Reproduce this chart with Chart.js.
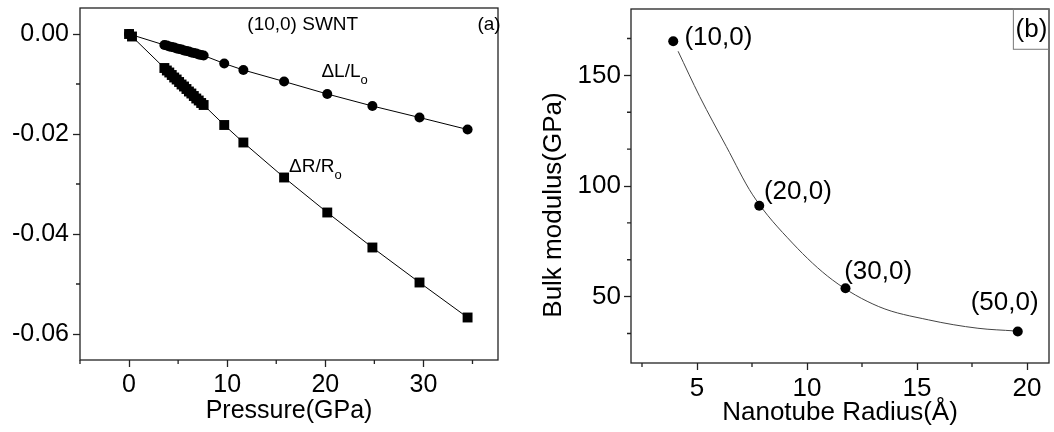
<!DOCTYPE html>
<html>
<head>
<meta charset="utf-8">
<script src="https://cdn.jsdelivr.net/npm/chart.js@4"></script>
<style>
  html, body { margin: 0; padding: 0; background: #fff; }
  #wrap { position: relative; width: 1054px; height: 432px; }
  canvas { position: absolute; top: 0; }
  #chartA { left: 0; }
  #chartB { left: 520px; }
</style>
</head>
<body>
<div id="wrap">
  <canvas id="chartA" width="520" height="432"></canvas>
  <canvas id="chartB" width="534" height="432"></canvas>
</div>
<script>
// panel (a): (10,0) SWNT strain vs pressure
var pressureL = [0, 3.6, 3.85, 4.1, 4.35, 4.6, 4.85, 5.1, 5.35, 5.6, 5.85, 6.1, 6.35, 6.6, 6.85, 7.1, 7.35, 7.6,
                 9.7, 11.65, 15.8, 20.2, 24.8, 29.6, 34.5];
var dL = [0, -0.0022, -0.0023, -0.0025, -0.0026, -0.0027, -0.0029, -0.0030, -0.0031, -0.0033, -0.0034, -0.0035,
          -0.0037, -0.0038, -0.0039, -0.0041, -0.0042, -0.0043,
          -0.0059, -0.0072, -0.0095, -0.0120, -0.0144, -0.0167, -0.0191];
var pressureR = [0, 0.3, 3.6, 3.85, 4.1, 4.35, 4.6, 4.85, 5.1, 5.35, 5.6, 5.85, 6.1, 6.35, 6.6, 6.85, 7.1, 7.35, 7.6,
                 9.7, 11.65, 15.8, 20.2, 24.8, 29.6, 34.5];
var dR = [0, -0.0005, -0.0068, -0.0073, -0.0077, -0.0082, -0.0087, -0.0091, -0.0096, -0.0101, -0.0105, -0.0110,
          -0.0115, -0.0119, -0.0124, -0.0129, -0.0133, -0.0138, -0.0142,
          -0.0182, -0.0217, -0.0287, -0.0357, -0.0427, -0.0497, -0.0567];
var pressureTicks = [0, 10, 20, 30];
var pressureMinor = [-5, 5, 15, 25, 35];
var strainTicks = [0, -0.02, -0.04, -0.06];
var strainMinor = [-0.01, -0.03, -0.05];

// panel (b): bulk modulus vs radius
var tubes = ['(10,0)', '(20,0)', '(30,0)', '(50,0)'];
var radius = [3.92, 7.83, 11.75, 19.58];
var bulk = [165.4, 91.1, 53.8, 34.2];
var fitRadius = [4.14, 5.12, 6.33, 7.53, 9.34, 11.15, 13.26, 15.52, 17.77, 19.43];
var fitBulk = [160.9, 140.5, 117.9, 96.0, 74.2, 57.6, 45.5, 39.5, 35.7, 34.5];
var radiusTicks = [5, 10, 15, 20];
var radiusMinor = [2.5, 7.5, 12.5, 17.5];
var bulkTicks = [50, 100, 150];
var bulkMinor = [33.33, 66.67, 83.33, 116.67, 133.33, 166.67];

var FONT = 'Arial, "Liberation Sans", sans-serif';
Chart.defaults.font.family = FONT;
Chart.defaults.color = '#000';

function xy(xs, ys) {
  var out = [];
  for (var i = 0; i < xs.length; i++) out.push({x: xs[i], y: ys[i]});
  return out;
}

// frame, minor ticks and in-plot texts
var panelDecor = {
  id: 'panelDecor',
  afterDraw: function(chart, args, o) {
    var ctx = chart.ctx, a = chart.chartArea, xs = chart.scales.x, ys = chart.scales.y;
    ctx.save();
    ctx.strokeStyle = '#222';
    ctx.lineWidth = 1.3;
    ctx.strokeRect(a.left, a.top, a.right - a.left, a.bottom - a.top);
    ctx.beginPath();
    o.minorX.forEach(function(v) {
      var p = xs.getPixelForValue(v);
      ctx.moveTo(p, a.bottom); ctx.lineTo(p, a.bottom + 4);
    });
    o.minorY.forEach(function(v) {
      var p = ys.getPixelForValue(v);
      ctx.moveTo(a.left, p); ctx.lineTo(a.left - 4, p);
    });
    ctx.stroke();

    if (o.box) {
      var bx = xs.getPixelForValue(o.box[0]), by = ys.getPixelForValue(o.box[1]);
      ctx.strokeStyle = '#777';
      ctx.lineWidth = 1;
      ctx.strokeRect(bx, a.top, a.right - bx, by - a.top);
    }

    ctx.fillStyle = '#000';
    ctx.textBaseline = 'middle';
    o.labels.forEach(function(l) {
      var x = xs.getPixelForValue(l.x), y = ys.getPixelForValue(l.y);
      ctx.font = l.size + 'px ' + FONT;
      ctx.textAlign = l.align || 'left';
      ctx.fillText(l.text, x, y);
      if (l.sub) {
        var w = ctx.measureText(l.text).width;
        ctx.font = Math.round(l.size * 0.7) + 'px ' + FONT;
        ctx.fillText(l.sub, x + w, y + l.size * 0.45);
      }
    });

    if (o.yTitle) {
      ctx.font = o.yTitle.size + 'px ' + FONT;
      ctx.textAlign = 'center';
      ctx.translate(o.yTitle.cx, o.yTitle.cy);
      ctx.rotate(-Math.PI / 2);
      ctx.fillText(o.yTitle.text, 0, 0);
    }
    ctx.restore();
  }
};

function axisGrid() {
  return { drawOnChartArea: false, drawTicks: true, tickLength: 7, tickWidth: 1.3, tickColor: '#222' };
}

function fixX(h) {
  return function(s) { s.height = h; s.paddingLeft = 0; s.paddingRight = 0; };
}
function fixY(w) {
  return function(s) { s.width = w; s.paddingTop = 0; s.paddingBottom = 0; };
}

new Chart(document.getElementById('chartA'), {
  type: 'scatter',
  data: {
    datasets: [
      {
        data: xy(pressureL, dL),
        showLine: true,
        borderColor: '#000',
        borderWidth: 1,
        backgroundColor: '#000',
        pointStyle: 'circle',
        pointRadius: 5,
        pointBorderWidth: 0
      },
      {
        data: xy(pressureR, dR),
        showLine: true,
        borderColor: '#000',
        borderWidth: 1,
        backgroundColor: '#000',
        pointStyle: 'rect',
        pointRadius: 7,
        pointBorderWidth: 0
      }
    ]
  },
  options: {
    responsive: false,
    animation: false,
    devicePixelRatio: 1,
    layout: { padding: { top: 8, right: 22, left: 0, bottom: 0 } },
    plugins: {
      legend: { display: false },
      tooltip: { enabled: false },
      panelDecor: {
        minorX: pressureMinor,
        minorY: strainMinor,
        labels: [
          { text: '(10,0) SWNT', x: 17.7, y: 0.0018, size: 19, align: 'center' },
          { text: '(a)', x: 35.5, y: 0.0018, size: 19 },
          { text: '\u0394L/L', sub: 'o', x: 19.6, y: -0.0075, size: 19 },
          { text: '\u0394R/R', sub: 'o', x: 16.3, y: -0.0265, size: 19 }
        ]
      }
    },
    scales: {
      x: {
        type: 'linear',
        min: -5,
        max: 37.6,
        afterBuildTicks: function(s) { s.ticks = pressureTicks.map(function(v) { return {value: v}; }); },
        afterFit: fixX(72),
        grid: axisGrid(),
        border: { display: false },
        ticks: { font: { size: 25 }, padding: 3, maxRotation: 0 },
        title: { display: true, text: 'Pressure(GPa)', font: { size: 25 }, padding: { top: 0, bottom: 6 } }
      },
      y: {
        type: 'linear',
        min: -0.0652,
        max: 0.0052,
        afterBuildTicks: function(s) { s.ticks = strainTicks.map(function(v) { return {value: v}; }); },
        afterFit: fixY(80),
        grid: axisGrid(),
        border: { display: false },
        ticks: { font: { size: 25 }, padding: 4, callback: function(v) { return v.toFixed(2); } }
      }
    }
  },
  plugins: [panelDecor]
});

new Chart(document.getElementById('chartB'), {
  type: 'scatter',
  data: {
    datasets: [
      {
        data: xy(radius, bulk),
        backgroundColor: '#000',
        pointStyle: 'circle',
        pointRadius: 5,
        pointBorderWidth: 0
      },
      {
        data: xy(fitRadius, fitBulk),
        showLine: true,
        borderColor: '#444',
        borderWidth: 1,
        pointRadius: 0,
        cubicInterpolationMode: 'monotone'
      }
    ]
  },
  options: {
    responsive: false,
    animation: false,
    devicePixelRatio: 1,
    layout: { padding: { top: 9, right: 4, left: 0, bottom: 0 } },
    plugins: {
      legend: { display: false },
      tooltip: { enabled: false },
      panelDecor: {
        minorX: radiusMinor,
        minorY: bulkMinor,
        box: [19.38, 161.8],
        labels: [
          { text: tubes[0], x: 4.43, y: 166.9, size: 26 },
          { text: tubes[1], x: 8.04, y: 97.4, size: 26 },
          { text: tubes[2], x: 11.69, y: 61.3, size: 26 },
          { text: tubes[3], x: 17.44, y: 47.0, size: 26 },
          { text: '(b)', x: 20.2, y: 170.5, size: 26, align: 'center' }
        ],
        yTitle: { text: 'Bulk modulus(GPa)', cx: 34, cy: 205, size: 26 }
      }
    },
    scales: {
      x: {
        type: 'linear',
        min: 2,
        max: 21,
        afterBuildTicks: function(s) { s.ticks = radiusTicks.map(function(v) { return {value: v}; }); },
        afterFit: fixX(69),
        grid: axisGrid(),
        border: { display: false },
        ticks: { font: { size: 26 }, padding: 3, maxRotation: 0 },
        title: { display: true, text: 'Nanotube Radius(\u00c5)', font: { size: 26 }, padding: { top: 0, bottom: 4 } }
      },
      y: {
        type: 'linear',
        min: 20,
        max: 180,
        afterBuildTicks: function(s) { s.ticks = bulkTicks.map(function(v) { return {value: v}; }); },
        afterFit: fixY(111),
        grid: axisGrid(),
        border: { display: false },
        ticks: { font: { size: 26 }, padding: 3 }
      }
    }
  },
  plugins: [panelDecor]
});
</script>
</body>
</html>
